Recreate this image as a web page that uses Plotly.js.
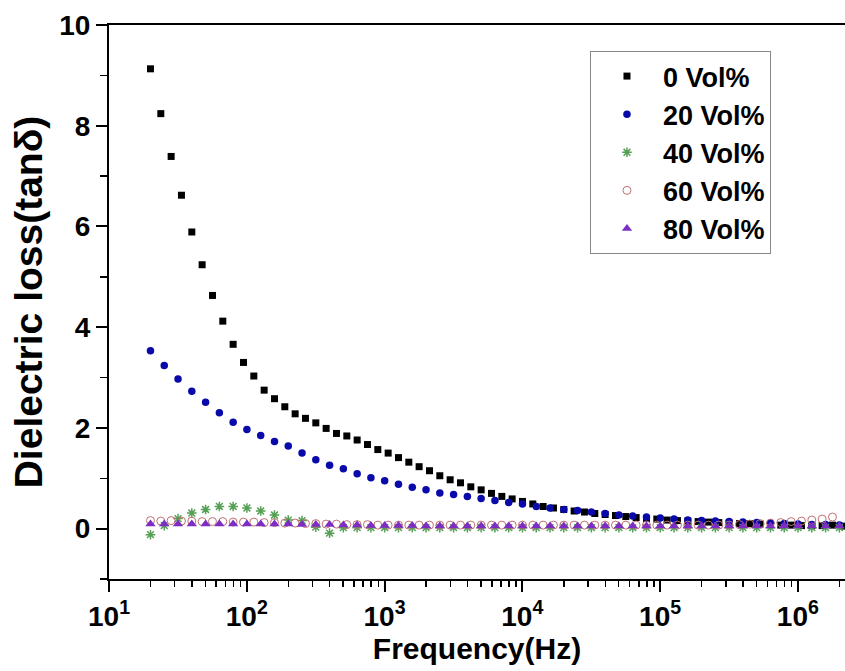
<!DOCTYPE html>
<html>
<head>
<meta charset="utf-8">
<script src="https://cdn.plot.ly/plotly-3.0.1.min.js"></script>
<style>html,body{margin:0;padding:0;background:#fff;}#chart{width:845px;height:671px;}</style>
</head>
<body>
<div id="chart"></div>
<script>
// Frequencies (Hz) of the denser sweep (0 Vol% and 60 Vol%)
const freqDense = [20, 23.77, 28.25, 33.57, 39.91, 47.43, 56.37, 66.99, 79.62, 94.64,
  112.5, 133.7, 158.9, 188.8, 224.4, 266.7, 317.0, 376.8, 447.7, 532.2,
  632.5, 751.7, 893.4, 1062, 1262, 1500, 1782, 2119, 2518, 2993,
  3557, 4227, 5024, 5971, 7097, 8434, 10024, 11913, 14159, 16828,
  20000, 23770, 28250, 33575, 39905, 47426, 56366, 66989, 79617, 94624,
  112460, 133660, 158850, 188790, 224380, 266680, 316950, 376700, 447700, 532090,
  632400, 751600, 893300, 1061700, 1261800, 1499700, 1782400, 2118400];
// Frequencies (Hz) of the 10-per-decade sweep (20, 40, 80 Vol%)
const freqDecade = [20, 25.18, 31.70, 39.91, 50.24, 63.25, 79.62, 100.2, 126.2, 158.9,
  200, 251.8, 317.0, 399.1, 502.4, 632.5, 796.2, 1002, 1262, 1589,
  2000, 2518, 3170, 3991, 5024, 6325, 7962, 10024, 12619, 15887,
  20000, 25179, 31698, 39905, 50238, 63246, 79621, 100237, 126191, 158866,
  200000, 251785, 316979, 399052, 502377, 632456, 796214, 1002374, 1261915, 1588656,
  2000000];

const vol0 = [9.13, 8.24, 7.39, 6.62, 5.89, 5.24, 4.63, 4.12, 3.66, 3.30,
  3.03, 2.75, 2.58, 2.42, 2.28, 2.19, 2.10, 1.99, 1.89, 1.84,
  1.76, 1.67, 1.57, 1.50, 1.41, 1.32, 1.23, 1.15, 1.05, 0.97,
  0.91, 0.83, 0.77, 0.70, 0.64, 0.59, 0.54, 0.49, 0.44, 0.41,
  0.38, 0.35, 0.33, 0.30, 0.28, 0.26, 0.24, 0.22, 0.20, 0.19,
  0.17, 0.16, 0.15, 0.14, 0.13, 0.12, 0.11, 0.10, 0.10, 0.09,
  0.08, 0.07, 0.07, 0.06, 0.06, 0.06, 0.07, 0.05];
const vol20 = [3.53, 3.24, 2.97, 2.73, 2.51, 2.30, 2.11, 1.97, 1.85, 1.73,
  1.64, 1.50, 1.37, 1.26, 1.19, 1.09, 1.01, 0.95, 0.88, 0.82,
  0.77, 0.71, 0.68, 0.64, 0.60, 0.56, 0.52, 0.49, 0.44, 0.41,
  0.38, 0.36, 0.33, 0.30, 0.27, 0.25, 0.23, 0.21, 0.19, 0.17,
  0.16, 0.15, 0.14, 0.13, 0.12, 0.11, 0.10, 0.09, 0.08, 0.08,
  0.07];
const vol40 = [-0.12, 0.06, 0.20, 0.31, 0.38, 0.44, 0.44, 0.41, 0.35, 0.27,
  0.17, 0.16, 0.03, -0.09, 0.02, 0.02, 0.02, 0.02, 0.02, 0.02,
  0.02, 0.02, 0.02, 0.02, 0.02, 0.02, 0.02, 0.02, 0.02, 0.02,
  0.02, 0.02, 0.02, 0.02, 0.02, 0.02, 0.02, 0.02, 0.02, 0.02,
  0.02, 0.02, 0.02, 0.02, 0.02, 0.02, 0.02, 0.02, 0.02, 0.02,
  0.02];
const vol60 = [0.16, 0.15, 0.16, 0.15, 0.15, 0.14, 0.14, 0.14, 0.13, 0.13,
  0.13, 0.12, 0.12, 0.11, 0.11, 0.10, 0.10, 0.09, 0.09, 0.08,
  0.08, 0.08, 0.07, 0.07, 0.07, 0.07, 0.07, 0.07, 0.07, 0.07,
  0.07, 0.07, 0.07, 0.07, 0.07, 0.07, 0.07, 0.07, 0.07, 0.07,
  0.07, 0.07, 0.07, 0.07, 0.07, 0.07, 0.07, 0.07, 0.07, 0.07,
  0.07, 0.07, 0.07, 0.07, 0.07, 0.07, 0.07, 0.08, 0.09, 0.10,
  0.11, 0.12, 0.14, 0.15, 0.17, 0.19, 0.23];
const vol80 = [0.09, 0.09, 0.09, 0.09, 0.09, 0.09, 0.09, 0.09, 0.09, 0.09,
  0.09, 0.08, 0.08, 0.08, 0.07, 0.07, 0.06, 0.06, 0.06, 0.06,
  0.05, 0.05, 0.05, 0.05, 0.05, 0.05, 0.05, 0.05, 0.05, 0.05,
  0.05, 0.05, 0.05, 0.05, 0.05, 0.05, 0.05, 0.05, 0.05, 0.05,
  0.05, 0.05, 0.05, 0.05, 0.05, 0.05, 0.05, 0.05, 0.05, 0.05,
  0.05];

const seriesNames = ['0 Vol%', '20 Vol%', '40 Vol%', '60 Vol%', '80 Vol%'];
const yTickVals = [0, 2, 4, 6, 8, 10];
const xTickVals = [10, 100, 1000, 10000, 100000, 1000000];
const xTickText = ['10<sup>1</sup>', '10<sup>2</sup>', '10<sup>3</sup>', '10<sup>4</sup>', '10<sup>5</sup>', '10<sup>6</sup>'];

const FONT = 'Liberation Sans, Arial, sans-serif';

const traces = [
  {x: freqDense, y: vol0, name: seriesNames[0], type: 'scatter', mode: 'markers',
   marker: {symbol: 'square', size: 7, color: '#000000'}},
  {x: freqDecade, y: vol20, name: seriesNames[1], type: 'scatter', mode: 'markers',
   marker: {symbol: 'circle', size: 7.5, color: '#0a0aaa'}},
  {x: freqDecade, y: vol40, name: seriesNames[2], type: 'scatter', mode: 'markers',
   marker: {symbol: 'asterisk-open', size: 8, color: '#55a055', line: {color: '#55a055', width: 1.5}}},
  {x: freqDense.slice(0, vol60.length), y: vol60, name: seriesNames[3], type: 'scatter', mode: 'markers',
   marker: {symbol: 'circle-open', size: 8, color: '#c07070', line: {color: '#c07070', width: 1}}},
  {x: freqDecade, y: vol80, name: seriesNames[4], type: 'scatter', mode: 'markers',
   marker: {symbol: 'triangle-up', size: 9, color: '#7d2cc4'}}
];

const layout = {
  width: 845, height: 671,
  margin: {l: 109, r: 0, t: 25, b: 92, pad: 0},
  paper_bgcolor: '#ffffff', plot_bgcolor: '#ffffff',
  font: {family: FONT, color: '#000'},
  showlegend: true,
  legend: {
    x: 0.6535, y: 0.953, xanchor: 'left', yanchor: 'top',
    bordercolor: '#888888', borderwidth: 1, bgcolor: '#ffffff',
    font: {family: FONT, size: 27, weight: 'bold', color: '#000'},
    itemwidth: 62, tracegroupgap: 0
  },
  xaxis: {
    type: 'log', range: [1, 6.342],
    showline: true, linecolor: '#000', linewidth: 2, mirror: true,
    showgrid: false, zeroline: false,
    ticks: 'outside', ticklen: 11, tickwidth: 2, tickcolor: '#000',
    tickvals: xTickVals, ticktext: xTickText,
    tickfont: {family: FONT, size: 28, weight: 'bold', color: '#000'},
    minor: {dtick: 'D1', ticks: 'outside', ticklen: 6, tickwidth: 1.5, tickcolor: '#000', showgrid: false},
    title: {text: 'Frequency(Hz)', font: {family: FONT, size: 30, weight: 'bold', color: '#000'}, standoff: 0}
  },
  yaxis: {
    range: [-1, 10],
    showline: true, linecolor: '#000', linewidth: 2,
    showgrid: false, zeroline: false,
    ticks: 'outside', ticklen: 11, tickwidth: 2, tickcolor: '#000',
    tickvals: yTickVals, ticktext: yTickVals.map(String),
    tickfont: {family: FONT, size: 28, weight: 'bold', color: '#000'},
    minor: {dtick: 1, ticks: 'outside', ticklen: 7, tickwidth: 1.5, tickcolor: '#000', showgrid: false},
    title: {text: 'Dielectric loss(tanδ)', font: {family: FONT, size: 39, weight: 'bold', color: '#000'}, standoff: 5}
  }
};

Plotly.newPlot('chart', traces, layout, {displayModeBar: false, staticPlot: true});
</script>
</body>
</html>
